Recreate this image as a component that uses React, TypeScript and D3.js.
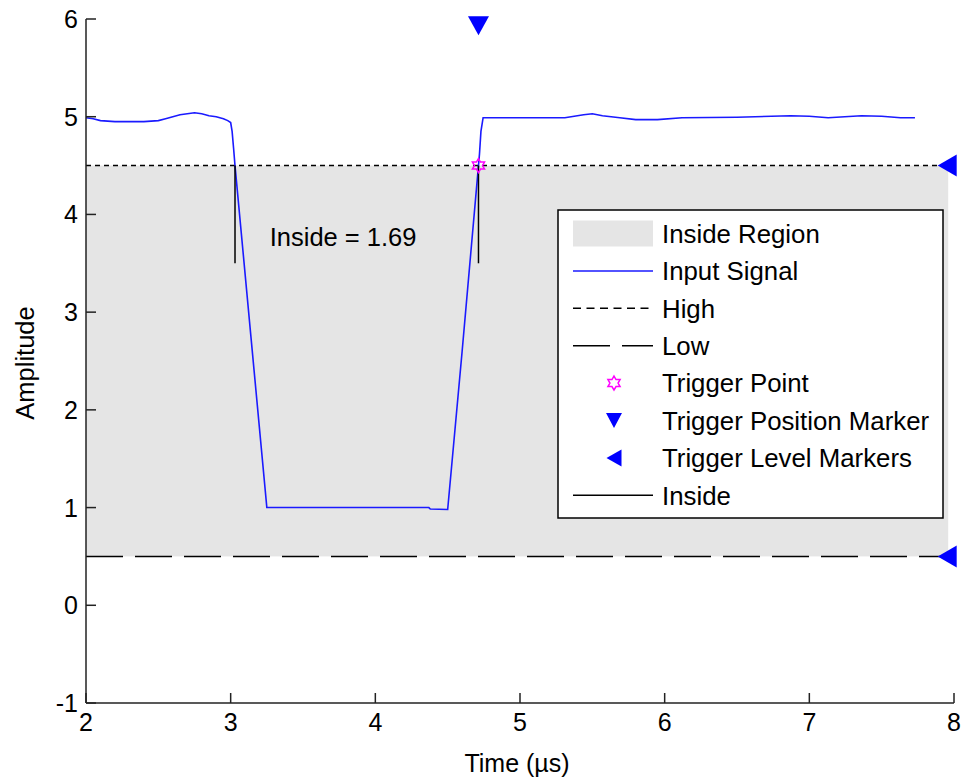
import React from "react";
import * as d3 from "d3";

const signalT = [2.0, 2.05, 2.1, 2.2, 2.3, 2.4, 2.5, 2.55, 2.6, 2.65, 2.7, 2.75, 2.8, 2.85, 2.9, 2.95, 2.98, 3.0, 3.01, 3.02, 3.03, 3.14, 3.25, 3.5, 4.0, 4.37, 4.38, 4.5, 4.6, 4.713, 4.72, 4.73, 4.745, 5.0, 5.31, 5.44, 5.5, 5.57, 5.69, 5.8, 5.95, 6.12, 6.5, 6.87, 7.0, 7.13, 7.36, 7.5, 7.63, 7.73];
const signalV = [4.99, 4.98, 4.96, 4.95, 4.95, 4.95, 4.96, 4.98, 5.0, 5.02, 5.03, 5.04, 5.03, 5.01, 5.0, 4.98, 4.96, 4.94, 4.85, 4.68, 4.5, 2.75, 1.0, 1.0, 1.0, 1.0, 0.985, 0.98, 2.6, 4.5, 4.62, 4.85, 4.99, 4.99, 4.99, 5.02, 5.03, 5.01, 4.99, 4.97, 4.97, 4.99, 4.995, 5.01, 5.005, 4.99, 5.01, 5.005, 4.99, 4.99];

const xTicks = [2, 3, 4, 5, 6, 7, 8];
const yTicks = [-1, 0, 1, 2, 3, 4, 5, 6];
const highLevel = 4.5;
const lowLevel = 0.5;
const regionStart = 2;
const regionEnd = 7.96;
const triggerT = 4.713;
const triggerPosY = 5.93;
const insideStart = 3.03;
const insideEnd = 4.713;
const insideBottom = 3.5;
const insideLabel = "Inside = 1.69";
const insideLabelPos = [3.27, 3.68];
const legendItems = ["Inside Region", "Input Signal", "High", "Low", "Trigger Point", "Trigger Position Marker", "Trigger Level Markers", "Inside"];

const FONT = "'Liberation Sans', Arial, sans-serif";

function hexagram(cx: number, cy: number, r: number) {
  const pts: string[] = [];
  for (let i = 0; i < 12; i++) {
    const a = (Math.PI / 6) * i - Math.PI / 2;
    const rr = i % 2 === 0 ? r : r * 0.58;
    pts.push(`${cx + rr * Math.cos(a)},${cy + rr * Math.sin(a)}`);
  }
  return pts.join(" ");
}

export default function App() {
  const x = d3.scaleLinear().domain([2, 8]).range([86, 954]);
  const y = d3.scaleLinear().domain([-1, 6]).range([703, 19]);
  const line = d3
    .line<number>()
    .x((_, i) => x(signalT[i]))
    .y((d) => y(d));

  const legX0 = 558, legY0 = 210, legW = 385, legH = 308;
  const rowY = (i: number) => 233.5 + i * 37.4;
  const sx0 = 573, sx1 = 653, sxc = 614;
  const tx = 662;

  const downTri = (cx: number, cy: number, w: number, h: number) =>
    `${cx - w / 2},${cy - h / 2} ${cx + w / 2},${cy - h / 2} ${cx},${cy + h / 2}`;
  const leftTri = (cx: number, cy: number, w: number, h: number) =>
    `${cx + w / 2},${cy - h / 2} ${cx + w / 2},${cy + h / 2} ${cx - w / 2},${cy}`;

  return (
    <svg width={973} height={780} style={{ position: "absolute", left: 0, top: 0, background: "#fff" }} fontFamily={FONT}>
      <rect x={x(regionStart)} y={y(highLevel)} width={x(regionEnd) - x(regionStart)} height={y(lowLevel) - y(highLevel)} fill="#e5e5e5" />
      <line x1={x(regionStart)} x2={x(regionEnd)} y1={y(highLevel)} y2={y(highLevel)} stroke="#000" strokeWidth={1.5} strokeDasharray="5,4" />
      <line x1={x(regionStart)} x2={x(regionEnd)} y1={y(lowLevel)} y2={y(lowLevel)} stroke="#000" strokeWidth={1.5} strokeDasharray="37,12" />
      <path d={line(signalV) || ""} fill="none" stroke="#1a1aff" strokeWidth={1.6} />
      {[insideStart, insideEnd].map((t, i) => (
        <line key={i} x1={x(t)} x2={x(t)} y1={y(highLevel)} y2={y(insideBottom)} stroke="#000" strokeWidth={1.5} />
      ))}
      <text x={x(insideLabelPos[0])} y={y(insideLabelPos[1])} fontSize={25.5} fill="#000">{insideLabel}</text>
      <polygon points={hexagram(x(triggerT), y(highLevel), 7)} fill="none" stroke="#ff00ff" strokeWidth={1.5} />
      <polygon points={downTri(x(triggerT), y(triggerPosY), 21, 19)} fill="#0000ff" />
      {[highLevel, lowLevel].map((v, i) => (
        <polygon key={i} points={leftTri(x(regionEnd) - 1, y(v), 19, 22)} fill="#0000ff" />
      ))}
      <line x1={86} x2={86} y1={19} y2={703} stroke="#222" strokeWidth={1.5} />
      <line x1={86} x2={954} y1={703} y2={703} stroke="#222" strokeWidth={1.5} />
      {yTicks.map((t) => (
        <g key={"y" + t}>
          <line x1={86} x2={96} y1={y(t)} y2={y(t)} stroke="#222" strokeWidth={1.5} />
          <text x={78} y={y(t)} dy="0.36em" textAnchor="end" fontSize={25} fill="#000">{t}</text>
        </g>
      ))}
      {xTicks.map((t) => (
        <g key={"x" + t}>
          <line x1={x(t)} x2={x(t)} y1={703} y2={693} stroke="#222" strokeWidth={1.5} />
          <text x={x(t)} y={731} textAnchor="middle" fontSize={25} fill="#000">{t}</text>
        </g>
      ))}
      <text x={517} y={772} textAnchor="middle" fontSize={25} fill="#000">Time (µs)</text>
      <text transform={`translate(34,363) rotate(-90)`} textAnchor="middle" fontSize={25.5} fill="#000">Amplitude</text>
      <rect x={legX0} y={legY0} width={legW} height={legH} fill="#fff" stroke="#000" strokeWidth={1.5} />
      <rect x={sx0} y={rowY(0) - 13} width={sx1 - sx0} height={26} fill="#e5e5e5" />
      <line x1={sx0} x2={sx1} y1={rowY(1)} y2={rowY(1)} stroke="#1a1aff" strokeWidth={1.5} />
      <line x1={sx0} x2={sx1} y1={rowY(2)} y2={rowY(2)} stroke="#000" strokeWidth={1.5} strokeDasharray="8,5.5" />
      <line x1={sx0} x2={sx1} y1={rowY(3)} y2={rowY(3)} stroke="#000" strokeWidth={1.5} strokeDasharray="37,12" />
      <polygon points={hexagram(sxc, rowY(4), 7)} fill="none" stroke="#ff00ff" strokeWidth={1.5} />
      <polygon points={downTri(sxc, rowY(5), 16, 15)} fill="#0000ff" />
      <polygon points={leftTri(sxc, rowY(6), 15, 17)} fill="#0000ff" />
      <line x1={sx0} x2={sx1} y1={rowY(7)} y2={rowY(7)} stroke="#000" strokeWidth={1.5} />
      {legendItems.map((s, i) => (
        <text key={s} x={tx} y={rowY(i)} dy="0.36em" fontSize={25.8} fill="#000">{s}</text>
      ))}
    </svg>
  );
}
